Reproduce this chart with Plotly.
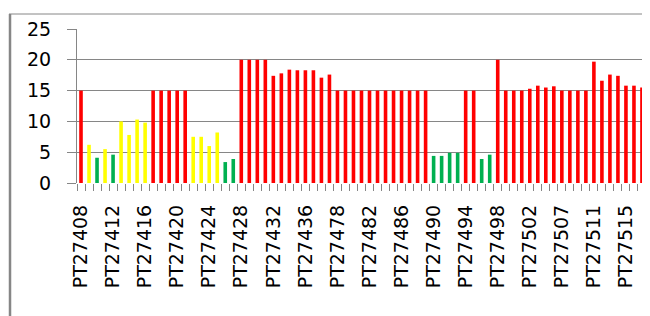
import plotly.graph_objects as go

# ---- data ----
ids = (list(range(27408, 27437)) + [27437, 27438, 27439] + list(range(27478, 27503))
       + [27503, 27504, 27505] + list(range(27507, 27519)))
categories = ["PT%d" % i for i in ids]

values = [15, 6.2, 4.1, 5.5, 4.6, 10.0, 7.8, 10.3, 9.8,
          15, 15, 15, 15, 15,
          7.5, 7.5, 6.0, 8.2, 3.4, 3.9,
          20, 20, 20, 20,
          17.4, 17.8, 18.4, 18.3, 18.3, 18.3, 17.1, 17.6,
          15, 15, 15, 15, 15, 15, 15, 15, 15, 15, 15, 15,
          4.4, 4.4, 4.9, 4.9,
          15, 15, 3.9, 4.6, 20,
          15, 15, 15, 15.3, 15.8, 15.5, 15.7, 15, 15, 15, 15,
          19.7, 16.6, 17.6, 17.4, 15.8, 15.8, 15.5, 15.3]

status = (["R", "Y", "G", "Y", "G", "Y", "Y", "Y", "Y"]
          + ["R"] * 5
          + ["Y", "Y", "Y", "Y", "G", "G"]
          + ["R"] * 4
          + ["R"] * 8
          + ["R"] * 12
          + ["G"] * 4
          + ["R", "R", "G", "G", "R"]
          + ["R"] * 11
          + ["R"] * 8)

label_every = 4
tick_labels = [c if i % label_every == 0 else "" for i, c in enumerate(categories)]

palette = {"R": "#FF0000", "Y": "#FFFF00", "G": "#00B050"}
colors = [palette[s] for s in status]

GRID = "#868686"
FONT = dict(family="DejaVu Sans", size=19, color="#000000")

fig = go.Figure(go.Bar(x=categories, y=values, marker=dict(color=colors, line=dict(width=0)),
                       showlegend=False))

# the page body adds an 8px offset, so margins are reduced by 8px
fig.update_layout(
    width=650, height=316,
    margin=dict(l=69, r=0, t=21, b=141, autoexpand=False),
    paper_bgcolor="white", plot_bgcolor="white",
    bargap=0.55,
    font=FONT,
)

fig.update_xaxes(
    type="category", automargin=False,
    range=[-0.5, 72.0],
    tickmode="array", tickvals=categories, ticktext=tick_labels,
    tickson="boundaries",
    ticks="outside", ticklen=7, tickcolor=GRID, tickwidth=1,
    tickangle=-90, tickfont=FONT,
    ticklabelstandoff=17,
    showgrid=False, showline=False, zeroline=False,
)

fig.update_yaxes(
    automargin=False,
    range=[0, 25], tickmode="linear", tick0=0, dtick=5,
    showgrid=True, gridcolor=GRID, gridwidth=1,
    ticks="outside", ticklen=9, tickcolor=GRID, tickwidth=1,
    showline=True, linecolor=GRID, linewidth=1,
    zeroline=False, tickfont=FONT,
    ticklabelstandoff=12,
)

# outer chart frame (partially cropped in the reference)
fig.add_shape(type="line", xref="paper", yref="paper",
              x0=-0.117, x1=1.0, y0=1.0974, y1=1.0974,
              line=dict(color=GRID, width=1))
fig.add_shape(type="line", xref="paper", yref="paper",
              x0=-0.1153, x1=-0.1153, y0=1.0974, y1=-0.95,
              line=dict(color=GRID, width=2.5))

fig.write_html("out.html")
